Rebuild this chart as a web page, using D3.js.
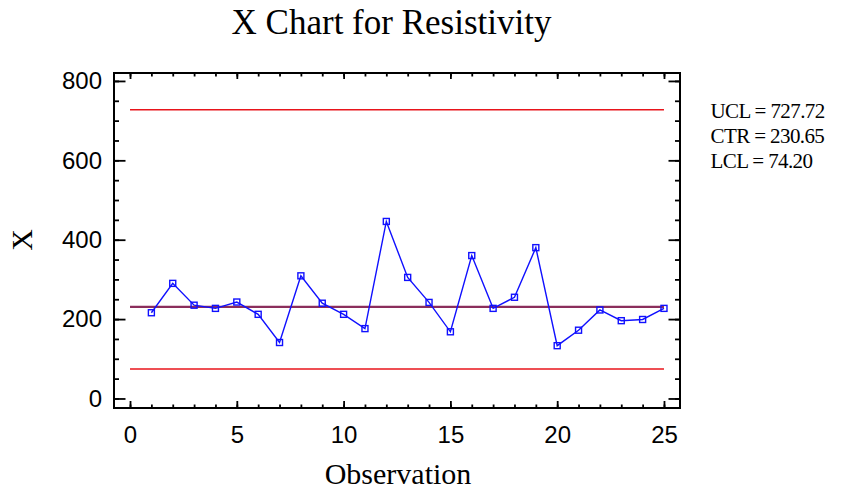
<!DOCTYPE html>
<html>
<head>
<meta charset="utf-8">
<script src="https://cdn.jsdelivr.net/npm/d3@7/dist/d3.min.js"></script>
<style>
  html, body { margin: 0; padding: 0; background: #fff; }
  svg { display: block; }
</style>
</head>
<body>
<svg id="chart" width="843" height="490"></svg>
<script>
const observations = d3.range(1, 26);
const values = [216, 290, 235, 227, 243, 212, 141, 309, 240, 212, 176, 446, 305,
                242, 168, 360, 227, 255, 380, 133, 172, 223, 196, 199, 227];
const limits = [
  { name: "UCL", value: 727.72, label: "727.72" },
  { name: "CTR", value: 230.65, label: "230.65" },
  { name: "LCL", value: 74.20, label: "74.20" }
];
const xMajorTicks = [0, 5, 10, 15, 20, 25];
const xMinorTicks = d3.range(0, 26);
const yMajorTicks = [0, 200, 400, 600, 800];
const yMinorTicks = d3.range(0, 801, 50);
const title = "X Chart for Resistivity";
const xLabel = "Observation";
const yLabel = "X";

const svg = d3.select("#chart");
const L = 114, T = 73, R = 680, B = 408;

const x = d3.scaleLinear().domain([-0.75, 25.75]).range([L, R]);
const y = d3.scaleLinear().domain([-24, 820]).range([B, T]);

const sans = "'Liberation Sans', Arial, sans-serif";
const serif = "'Liberation Serif', 'Times New Roman', serif";

// Limit lines
const limitColor = { UCL: "#e8141b", CTR: "#8b2e5c", LCL: "#e8141b" };
const limitWidth = { UCL: 1.5, CTR: 2.2, LCL: 1.5 };
svg.append("g").selectAll("line").data(limits).join("line")
  .attr("x1", x(0)).attr("x2", x(25))
  .attr("y1", d => y(d.value)).attr("y2", d => y(d.value))
  .attr("stroke", d => limitColor[d.name])
  .attr("stroke-width", d => limitWidth[d.name]);

// Data line
const pts = observations.map((o, i) => [o, values[i]]);
svg.append("path")
  .datum(pts)
  .attr("fill", "none")
  .attr("stroke", "#1010ff")
  .attr("stroke-width", 1.4)
  .attr("d", d3.line().x(d => x(d[0])).y(d => y(d[1])));

// Markers
const ms = 6;
svg.append("g").selectAll("rect").data(pts).join("rect")
  .attr("x", d => x(d[0]) - ms / 2)
  .attr("y", d => y(d[1]) - ms / 2)
  .attr("width", ms).attr("height", ms)
  .attr("fill", "none")
  .attr("stroke", "#1010ff")
  .attr("stroke-width", 1.4);

// Axes
function styleAxis(g) {
  g.select(".domain").remove();
  g.selectAll(".tick line").attr("stroke", "#000").attr("stroke-width", 1.8);
  g.selectAll(".tick text").attr("fill", "#000").attr("font-family", sans).attr("font-size", 24);
}
// bottom
svg.append("g").attr("transform", `translate(0,${B})`)
  .call(d3.axisBottom(x).tickValues(xMinorTicks).tickSize(-3.5).tickFormat(""))
  .call(styleAxis);
svg.append("g").attr("transform", `translate(0,${B})`)
  .call(d3.axisBottom(x).tickValues(xMajorTicks).tickSize(-7).tickPadding(17.5).tickFormat(d3.format("d")))
  .call(styleAxis);
// top
svg.append("g").attr("transform", `translate(0,${T})`)
  .call(d3.axisTop(x).tickValues(xMinorTicks).tickSize(-3.5).tickFormat(""))
  .call(styleAxis);
svg.append("g").attr("transform", `translate(0,${T})`)
  .call(d3.axisTop(x).tickValues(xMajorTicks).tickSize(-6).tickFormat(""))
  .call(styleAxis);
// left
svg.append("g").attr("transform", `translate(${L},0)`)
  .call(d3.axisLeft(y).tickValues(yMinorTicks).tickSize(-5).tickFormat(""))
  .call(styleAxis);
svg.append("g").attr("transform", `translate(${L},0)`)
  .call(d3.axisLeft(y).tickValues(yMajorTicks).tickSize(-11.5).tickPadding(12).tickFormat(d3.format("d")))
  .call(styleAxis);
// right
svg.append("g").attr("transform", `translate(${R},0)`)
  .call(d3.axisRight(y).tickValues(yMinorTicks).tickSize(-5).tickFormat(""))
  .call(styleAxis);
svg.append("g").attr("transform", `translate(${R},0)`)
  .call(d3.axisRight(y).tickValues(yMajorTicks).tickSize(-11.5).tickFormat(""))
  .call(styleAxis);

// Frame
svg.append("rect")
  .attr("x", L).attr("y", T).attr("width", R - L).attr("height", B - T)
  .attr("fill", "none").attr("stroke", "#000").attr("stroke-width", 2);

// Title
svg.append("text")
  .attr("x", 391.5).attr("y", 33.5)
  .attr("text-anchor", "middle")
  .attr("font-family", serif).attr("font-size", 35)
  .attr("fill", "#000")
  .text(title);

// X label
svg.append("text")
  .attr("x", 398).attr("y", 484)
  .attr("text-anchor", "middle")
  .attr("font-family", serif).attr("font-size", 30)
  .attr("fill", "#000")
  .text(xLabel);

// Y label
svg.append("text")
  .attr("transform", "translate(32,240) rotate(-90)")
  .attr("text-anchor", "middle")
  .attr("font-family", serif).attr("font-size", 30)
  .attr("fill", "#000")
  .text(yLabel);

// Legend
svg.append("g").selectAll("text").data(limits).join("text")
  .attr("x", 710.5)
  .attr("y", (d, i) => 118.3 + i * 25)
  .attr("font-family", serif).attr("font-size", 21)
  .attr("letter-spacing", -0.6)
  .attr("fill", "#000")
  .text(d => `${d.name} = ${d.label}`);
</script>
</body>
</html>
